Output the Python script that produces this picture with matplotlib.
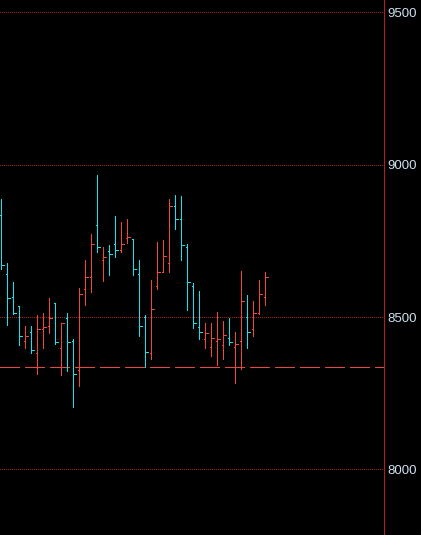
import matplotlib
matplotlib.use("Agg")
import matplotlib.pyplot as plt
import numpy as np

# OHLC values
opens = [8835, 8641, 8565, 8537, 8421, 8450, 8382, 8460, 8471, 8547,
         8398, 8497, 8421, 8326, 8593, 8631, 8802, 8687, 8716, 8739,
         8720, 8761, 8757, 8641, 8501, 8382, 8601, 8647, 8677, 8864,
         8821, 8729, 8601, 8467, 8427, 8401, 8421, 8408, 8431, 8401,
         8421, 8500, 8460, 8513, 8565]
highs = [8888, 8678, 8615, 8537, 8471, 8471, 8507, 8513, 8563, 8547,
         8481, 8514, 8428, 8596, 8689, 8773, 8967, 8729, 8737, 8832,
         8812, 8821, 8757, 8688, 8507, 8622, 8747, 8753, 8888, 8901,
         8898, 8740, 8611, 8585, 8481, 8481, 8517, 8488, 8497, 8450,
         8652, 8572, 8553, 8622, 8648]
lows = [8658, 8474, 8512, 8410, 8399, 8384, 8315, 8399, 8449, 8412,
        8311, 8324, 8206, 8275, 8541, 8583, 8715, 8620, 8638, 8699,
        8715, 8744, 8638, 8439, 8336, 8363, 8593, 8647, 8649, 8790,
        8688, 8524, 8466, 8429, 8400, 8374, 8344, 8364, 8408, 8285,
        8331, 8400, 8439, 8511, 8540]
closes = [8670, 8562, 8515, 8438, 8438, 8392, 8460, 8468, 8497, 8419,
          8481, 8418, 8313, 8575, 8631, 8739, 8729, 8697, 8706, 8720,
          8739, 8764, 8657, 8471, 8385, 8526, 8647, 8700, 8864, 8821,
          8736, 8615, 8480, 8450, 8447, 8431, 8427, 8441, 8418, 8411,
          8552, 8450, 8513, 8575, 8631]
ref_level = 8335
yticks = [8000, 8500, 9000, 9500]
ytick_labels = ["8000", "8500", "9000", "9500"]

UP = "#f0463c"
DOWN = "#12e4f0"
LW = 0.6            # slightly under one pixel -> crisp single-pixel lines
K = 0.72 / LW       # dash unit so that 1 dash unit = 1 pixel

fig = plt.figure(figsize=(4.21, 5.35), dpi=100)
fig.patch.set_facecolor("black")
ax = fig.add_axes([0, 0, 383.5 / 421, 1])
ax.set_facecolor("black")

x = np.arange(len(opens))
o = np.array(opens); c = np.array(closes)
cols = [UP if cc >= oo else DOWN for oo, cc in zip(o, c)]

common = dict(linewidth=LW, antialiased=False, snap=True, zorder=3)
ax.vlines(x, lows, highs, colors=cols, **common)
ax.hlines(o, x - 0.3, x, colors=cols, **common)
ax.hlines(c, x, x + 0.45, colors=cols, **common)

ax.axhline(ref_level, color="#e8453c", linewidth=LW,
           linestyle=(0, (19 * K, 6 * K)),
           antialiased=False, snap=True, zorder=2)

ax.set_xlim(-0.22, 63.70)
ax.set_ylim(7785, 9541)

ax.yaxis.tick_right()
ax.set_yticks(yticks)
ax.set_yticklabels(ytick_labels)
ax.tick_params(axis="y", length=0, pad=3, labelsize=9.5, labelcolor="#cfe0f0")
for lab in ax.get_yticklabels():
    lab.set_fontfamily("Liberation Sans")
ax.set_xticks([])
ax.yaxis.grid(True, color="#a01a1a", linestyle=(0, (1 * K, 2 * K)), linewidth=LW)
for gl in ax.get_ygridlines():
    gl.set_antialiased(False)
    gl.set_snap(True)
ax.set_axisbelow(True)

for s in ["top", "left", "bottom"]:
    ax.spines[s].set_visible(False)
ax.spines["right"].set_color("#b81c1a")
ax.spines["right"].set_linewidth(LW)
ax.spines["right"].set_antialiased(False)
ax.spines["right"].set_snap(True)

fig.savefig("out.png", dpi=100, facecolor="black")
